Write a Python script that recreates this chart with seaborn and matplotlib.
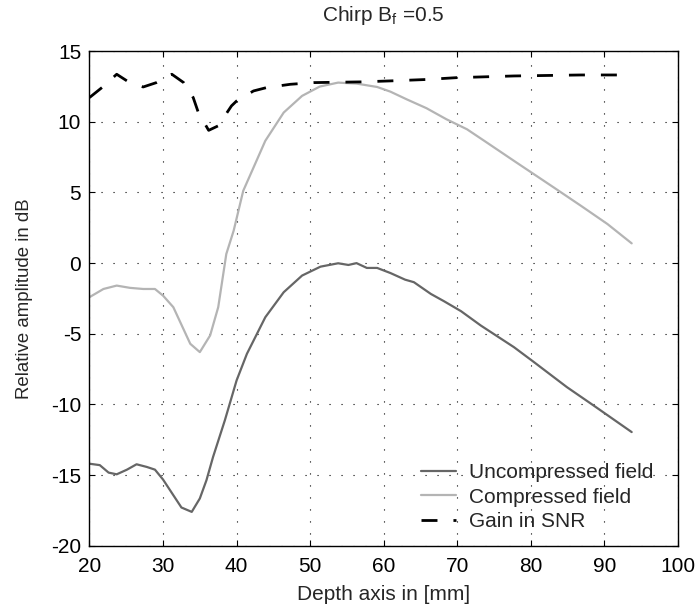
import pandas as pd
import seaborn as sns
import matplotlib
matplotlib.use("Agg")
import matplotlib.pyplot as plt

# values
depth_unc = [20, 21.4, 22.6, 23.7, 25.1, 26.4, 27.8, 28.9, 30.0, 31.4, 32.5, 33.9, 35.0,
             35.9, 36.8, 38.4, 40.0, 41.4, 43.9, 46.4, 48.9, 51.4, 53.8, 55.2, 56.3, 57.7,
             59.1, 60.9, 62.9, 64.1, 66.4, 68.2, 70.5, 73.2, 77.7, 80.4, 84.9, 88.5, 93.7]
uncompressed = [-14.2, -14.3, -14.83, -14.95, -14.62, -14.24, -14.43, -14.62, -15.32, -16.43,
                -17.3, -17.61, -16.66, -15.37, -13.72, -11.13, -8.3, -6.42, -3.83, -2.06,
                -0.88, -0.25, -0.01, -0.13, 0.0, -0.34, -0.34, -0.7, -1.17, -1.35, -2.18,
                -2.7, -3.4, -4.42, -5.95, -7.0, -8.78, -10.07, -11.96]

depth_comp = [20, 21.9, 23.7, 25.5, 27.3, 28.9, 30.0, 31.4, 33.7, 35.0, 36.4, 37.5, 38.6,
              39.6, 40.9, 42.3, 43.9, 46.4, 48.9, 51.3, 53.8, 56.3, 59.1, 60.9, 63.1, 65.8,
              68.5, 71.3, 74.0, 77.7, 80.4, 83.1, 86.8, 90.4, 93.7]
compressed = [-2.41, -1.83, -1.59, -1.75, -1.83, -1.83, -2.3, -3.12, -5.71, -6.3, -5.12,
              -3.12, 0.65, 2.3, 5.12, 6.77, 8.66, 10.66, 11.84, 12.5, 12.78, 12.71, 12.47,
              12.14, 11.6, 10.97, 10.19, 9.48, 8.54, 7.24, 6.3, 5.36, 4.06, 2.77, 1.4]

depth_gain = [20, 21.7, 23.7, 25.1, 27.3, 29.1, 31.2, 32.8, 34.1, 34.8, 36.2, 37.5, 39.3,
              40.0, 42.3, 44.1, 47.3, 50.5, 56.9, 60.9, 65.8, 69.9, 77.7, 86.8, 92.0]
gain = [11.72, 12.43, 13.37, 12.9, 12.47, 12.78, 13.37, 12.78, 11.72, 10.66, 9.4, 9.72,
        11.13, 11.48, 12.19, 12.43, 12.66, 12.78, 12.83, 12.9, 13.0, 13.13, 13.25, 13.32, 13.32]

x_ticks = [20, 30, 40, 50, 60, 70, 80, 90, 100]
y_ticks = [-20, -15, -10, -5, 0, 5, 10, 15]

df_unc = pd.DataFrame({"depth": depth_unc, "dB": uncompressed})
df_comp = pd.DataFrame({"depth": depth_comp, "dB": compressed})
df_gain = pd.DataFrame({"depth": depth_gain, "dB": gain})

sns.set_theme(style="ticks")
plt.rcParams["font.family"] = ["Liberation Sans", "DejaVu Sans"]
plt.rcParams["axes.unicode_minus"] = False

fig = plt.figure(figsize=(6.99, 6.10), dpi=100)
ax = fig.add_axes([0.128, 0.1055, 0.842, 0.8105])

sns.lineplot(data=df_unc, x="depth", y="dB", ax=ax, color="#666666", lw=1.6,
             label="Uncompressed field")
sns.lineplot(data=df_comp, x="depth", y="dB", ax=ax, color="#b4b4b4", lw=1.6,
             label="Compressed field")
sns.lineplot(data=df_gain, x="depth", y="dB", ax=ax, color="black", lw=2.0,
             dashes=False, label="Gain in SNR")
ax.lines[-1].set_dashes((5.75, 5.75))

ax.set_xlim(20, 100)
ax.set_ylim(-20, 15)
ax.set_xticks(x_ticks)
ax.set_yticks(y_ticks)
ax.grid(True, color="black", lw=0.8, linestyle=(0, (1, 9.8)))
for s in ax.spines.values():
    s.set_visible(True)
    s.set_linewidth(1.0)
    s.set_color("black")
ax.tick_params(direction="in", length=4, width=0.8, top=True, right=True,
               labelsize=15, colors="black", pad=6)
ax.tick_params(axis="x", pad=8)

ax.set_xlabel("Depth axis in [mm]", fontsize=15, labelpad=7)
ax.set_ylabel("Relative amplitude in dB", fontsize=13.4, labelpad=13)
ax.set_title(r"Chirp B$_\mathregular{f}$ =0.5", fontsize=15, pad=22)

leg = ax.legend(loc="lower right", bbox_to_anchor=(0.9575, 0.03), frameon=False,
                fontsize=15, borderpad=0, borderaxespad=0, handlelength=1.7,
                handletextpad=0.6, labelspacing=0.25)

fig.savefig("out.png", dpi=100)
